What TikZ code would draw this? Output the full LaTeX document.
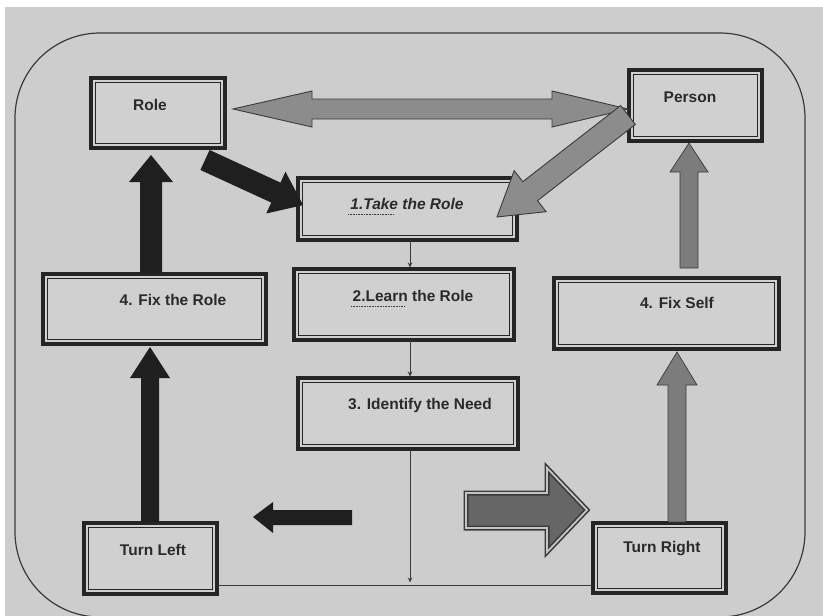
\documentclass[tikz,border=0pt]{standalone}
\usepackage{fontspec}
\setmainfont{Liberation Sans}
\usetikzlibrary{calc,arrows.meta}
\definecolor{bg}{HTML}{CDCDCD}
\definecolor{boxc}{HTML}{252525}
\definecolor{boxfill}{HTML}{D0D0D0}
\definecolor{txt}{HTML}{2A2A2A}
\definecolor{blk}{HTML}{1F1F1F}
\definecolor{garrow}{HTML}{8C8C8C}
\definecolor{garrowb}{HTML}{7C7C7C}
\definecolor{edge}{HTML}{3A3A3A}
\definecolor{lightband}{HTML}{C4C4C4}
\definecolor{midfill}{HTML}{666666}
\tikzset{
  box/.style={draw=boxc, line width=3.5pt, fill=boxfill, inner sep=0pt, outer sep=0pt},
  innerline/.style={draw=boxc, line width=0.9pt},
  lbl/.style={font=\fontsize{15.5}{18}\selectfont\bfseries, text=txt, inner sep=0pt},
  thinconn/.style={draw=edge, line width=0.7pt},
  tipc/.style={-{Stealth[length=5pt,width=4.5pt]}},
  blkarrow/.style={fill=blk},
  grayarrow/.style={fill=garrow, draw=edge, line width=0.9pt, line join=miter},
  grayup/.style={fill=garrowb, draw=edge, line width=0.7pt},
}
\begin{document}
\begin{tikzpicture}[x=1pt,y=-1pt]
\useasboundingbox (0,0) rectangle (823,616);
\fill[white] (0,0) rectangle (823,616);
\fill[bg] (5,7) rectangle (823,616);
% outer rounded frame
\draw[edge, line width=1.2pt, rounded corners=85pt] (15,33) rectangle (805,617);

% boxes
\node[box, minimum width=134pt, minimum height=70pt] (role) at (158,113) {};
\node[box, minimum width=133pt, minimum height=71pt] (person) at (695.5,105.5) {};
\node[box, minimum width=219pt, minimum height=62pt] (take) at (407.5,209) {};
\node[box, minimum width=220pt, minimum height=71pt] (learn) at (404,304.5) {};
\node[box, minimum width=220pt, minimum height=71pt] (need) at (408,413.5) {};
\node[box, minimum width=223pt, minimum height=70pt] (fixrole) at (154.5,309) {};
\node[box, minimum width=225pt, minimum height=71pt] (fixself) at (666.5,313.5) {};
\node[box, minimum width=133pt, minimum height=71pt] (tleft) at (150.5,558.5) {};
\node[box, minimum width=133pt, minimum height=70pt] (tright) at (659.5,558) {};
\foreach \n in {role,person,take,learn,need,fixrole,fixself,tleft,tright}
  \draw[innerline] ([shift={(4.5pt,-4.5pt)}]\n.north west) rectangle ([shift={(-4.5pt,4.5pt)}]\n.south east);

% labels
\node[lbl] (roleT) at (150,105) {Role};
\node[lbl] (personT) at (690,97) {Person};
\node[lbl, font=\fontsize{15.5}{18}\selectfont\bfseries\itshape] (takeT) at (407,204) {1.Take the Role};
\node[lbl] (learnT) at (413,296) {2.Learn the Role};
\node[lbl] (needT) at (420,405) {3. Identify the Need};
\node[lbl] (fixroleT) at (173,300) {4. Fix the Role};
\node[lbl] (fixselfT) at (677,303) {4. Fix Self};
\node[lbl] (tleftT) at (153,550) {Turn Left};
\node[lbl] (trightT) at (662,549) {Turn Right};
% spell-check squiggles
\draw[edge, densely dotted, line width=0.6pt] (348,214) -- (394,214);
\draw[edge, densely dotted, line width=0.6pt] (351,306) -- (404,306);

% thin connectors
\coordinate (cx) at (410,0);
\coordinate (hl) at (410,585);
\draw[thinconn, tipc, shorten >=1.5pt] (take.south -| cx) -- (learn.north -| cx);
\draw[thinconn, tipc, shorten >=1.5pt] (learn.south -| cx) -- (need.north -| cx);
\draw[thinconn, tipc, shorten >=2.5pt] (need.south -| cx) -- (hl);
\draw[thinconn] (hl -| tleft.east) -- (hl -| tright.west);

% double arrow Role <-> Person
\draw[grayarrow] (233,109) -- (312,91) -- (312,99) -- (552,99) -- (552,91) -- (628,109)
  -- (552,127) -- (552,119) -- (312,119) -- (312,127) -- cycle;

% dark diagonal arrow Role -> Take the Role
\begin{scope}[shift={(205,160)}, rotate=-24.7]
  \fill[blkarrow] (0,11) -- (78,11) -- (78,23) -- (108,0) -- (78,-23) -- (78,-11) -- (0,-11) -- cycle;
\end{scope}

% gray diagonal arrow Person -> Take the Role
\begin{scope}[shift={(628,115)}, rotate=-142.1]
  \draw[grayarrow] (0,12) -- (124,12) -- (124,26) -- (166,0) -- (124,-26) -- (124,-12) -- (0,-12) -- cycle;
\end{scope}

% up arrows, left column (black)
\fill[blkarrow] (140,273) -- (140,182) -- (129,182) -- (151,155) -- (173,182) -- (162,182) -- (162,273) -- cycle;
\fill[blkarrow] (141,522) -- (141,378) -- (130,378) -- (150,347) -- (170,378) -- (159,378) -- (159,522) -- cycle;

% up arrows, right column (gray)
\draw[grayup] (680,268) -- (680,172) -- (670,172) -- (689,143) -- (708,172) -- (698,172) -- (698,268) -- cycle;
\draw[grayup] (668,522) -- (668,385) -- (657,385) -- (677,352) -- (697,385) -- (686,385) -- (686,522) -- cycle;

% black left arrow
\fill[blkarrow] (352,510) -- (273,510) -- (273,502) -- (253,517) -- (273,533) -- (273,525) -- (352,525) -- cycle;

% outlined right arrow
\path[fill=midfill] (466,493) -- (547,493) -- (547,468) -- (587,510) -- (547,552) -- (547,528) -- (466,528) -- cycle;
\draw[edge, line width=5pt, line join=miter] (466,493) -- (547,493) -- (547,468) -- (587,510) -- (547,552) -- (547,528) -- (466,528) -- cycle;
\draw[lightband, line width=1.8pt, line join=miter] (466,493) -- (547,493) -- (547,468) -- (587,510) -- (547,552) -- (547,528) -- (466,528) -- cycle;
\end{tikzpicture}
\end{document}
